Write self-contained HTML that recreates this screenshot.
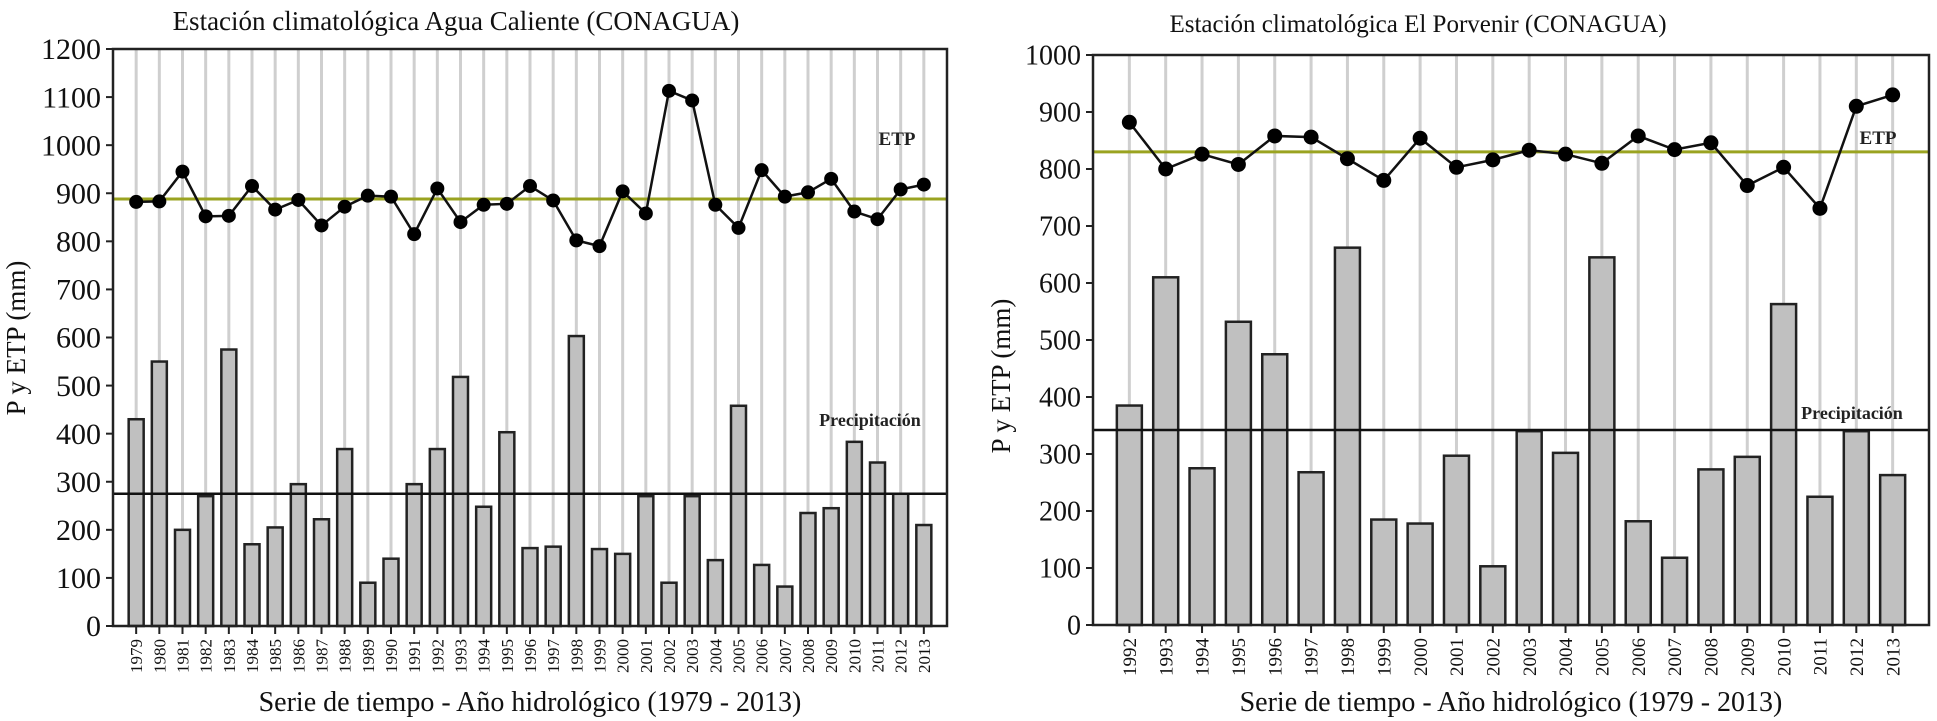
<!DOCTYPE html>
<html><head><meta charset="utf-8"><style>
html,body{margin:0;padding:0;background:#fff;}
svg{display:block;font-family:"Liberation Serif",serif;}
</style></head><body>
<svg id="chart" width="1937" height="721" viewBox="0 0 1937 721" xmlns="http://www.w3.org/2000/svg"></svg>
<script>
const yearsA = [1979,1980,1981,1982,1983,1984,1985,1986,1987,1988,1989,1990,1991,1992,1993,1994,1995,1996,1997,1998,1999,2000,2001,2002,2003,2004,2005,2006,2007,2008,2009,2010,2011,2012,2013];
const precipA = [430,550,200,270,575,170,205,295,222,368,90,140,295,368,518,248,403,162,165,603,160,150,270,90,270,137,458,127,82,235,245,383,340,275,210];
const etpA = [882,883,945,852,853,915,866,886,833,872,895,893,815,910,840,876,878,915,885,802,790,904,858,1113,1093,876,828,948,893,902,930,862,846,908,918];
const meanEtpA = 888;
const meanPrecipA = 275;
const ticksA = [0,100,200,300,400,500,600,700,800,900,1000,1100,1200];

const yearsB = [1992,1993,1994,1995,1996,1997,1998,1999,2000,2001,2002,2003,2004,2005,2006,2007,2008,2009,2010,2011,2012,2013];
const precipB = [385,610,275,532,475,268,662,185,178,297,103,340,302,645,182,118,273,295,563,225,340,263];
const etpB = [882,800,826,808,858,856,818,780,854,803,816,833,826,810,858,834,846,771,803,731,910,930];
const meanEtpB = 830;
const meanPrecipB = 342;
const ticksB = [0,100,200,300,400,500,600,700,800,900,1000];

const svg = document.getElementById('chart');
const NS = 'http://www.w3.org/2000/svg';
function el(tag, attrs, parent){
  const e = document.createElementNS(NS, tag);
  for (const k in attrs) e.setAttribute(k, attrs[k]);
  (parent||svg).appendChild(e);
  return e;
}

function draw(cfg){
  const {x0,x1,y0,y1,max,years,precip,etp,meanEtp,meanP,ticks,barW,r,yearFont,tickFont,title,titleX,titleY,titleSize,etpLbl,pLbl,ylabX,ylabY,prefix} = cfg;
  const n = years.length;
  const step = (x1-x0)/(n+1);
  const X = i => x0 + (i+1)*step;
  const Y = v => y0 - (v/max)*(y0-y1);
  const g = el('g', {});
  
  

  const t = el('text', {x:titleX, y:titleY, 'font-size':titleSize, 'text-anchor':'middle', fill:'#111'}, g);
  t.textContent = title;
  
  

  years.forEach((yr,i)=>{
    const l = el('line', {x1:X(i), x2:X(i), y1:y1, y2:y0, stroke:'#cfcfcf', 'stroke-width':3}, g);
    
    
  });
  years.forEach((yr,i)=>{
    const b = el('rect', {x:X(i)-barW/2, y:Y(precip[i]), width:barW, height:y0-Y(precip[i]), fill:'#c0c0c0', stroke:'#222', 'stroke-width':2.5}, g);
    
    
  });
  const ml = el('line', {x1:x0, x2:x1, y1:Y(meanP), y2:Y(meanP), stroke:'#111', 'stroke-width':2.5}, g);
  
  
  const me = el('line', {x1:x0, x2:x1, y1:Y(meanEtp), y2:Y(meanEtp), stroke:'#9aa320', 'stroke-width':3}, g);
  
  
  const pts = etp.map((v,i)=>X(i)+','+Y(v)).join(' ');
  const pl = el('polyline', {points:pts, fill:'none', stroke:'#111', 'stroke-width':2.5}, g);
  
  
  etp.forEach((v,i)=>{
    const c = el('circle', {cx:X(i), cy:Y(v), r:r, fill:'#000'}, g);
    
    
  });
  const fr = el('rect', {x:x0, y:y1, width:x1-x0, height:y0-y1, fill:'none', stroke:'#222', 'stroke-width':2.5}, g);
  
  
  ticks.forEach(v=>{
    const tk = el('line', {x1:x0-7, x2:x0, y1:Y(v), y2:Y(v), stroke:'#222', 'stroke-width':2}, g);
    
    
    const tl = el('text', {x:x0-12, y:Y(v)+tickFont*0.34, 'font-size':tickFont, 'text-anchor':'end', fill:'#111'}, g);
    tl.textContent = v;
    
    
  });
  years.forEach((yr,i)=>{
    const tk = el('line', {x1:X(i), x2:X(i), y1:y0, y2:y0+8, stroke:'#222', 'stroke-width':2}, g);
    
    
    const tl = el('text', {x:0, y:0, 'font-size':yearFont, 'text-anchor':'end', fill:'#111', transform:`translate(${X(i)+yearFont*0.35},${y0+13}) rotate(-90)`}, g);
    tl.textContent = yr;
    
    
  });
  const yl = el('text', {x:0, y:0, 'font-size':27, 'text-anchor':'middle', fill:'#111', transform:`translate(${ylabX},${ylabY}) rotate(-90)`}, g);
  yl.textContent = 'P y ETP (mm)';
  
  
  const xl = el('text', {x:(x0+x1)/2, y:711, 'font-size':28, 'text-anchor':'middle', fill:'#111'}, g);
  xl.textContent = 'Serie de tiempo - Año hidrológico (1979 - 2013)';
  
  
  const e1 = el('text', {x:etpLbl[0], y:etpLbl[1], 'font-size':19, 'font-weight':'bold', 'text-anchor':'middle', fill:'#222'}, g);
  e1.textContent = 'ETP';
  
  
  const p1 = el('text', {x:pLbl[0], y:pLbl[1], 'font-size':18, 'font-weight':'bold', 'text-anchor':'middle', fill:'#222'}, g);
  p1.textContent = 'Precipitación';
  
  
}

draw({x0:113,x1:947,y0:626,y1:49,max:1200,years:yearsA,precip:precipA,etp:etpA,meanEtp:meanEtpA,meanP:meanPrecipA,ticks:ticksA,barW:15,r:7,yearFont:17,tickFont:30,
  title:'Estación climatológica Agua Caliente (CONAGUA)',titleX:456,titleY:30,titleSize:27,etpLbl:[897,145],pLbl:[870,426],ylabX:25,ylabY:338,prefix:'agua-caliente'});
draw({x0:1093,x1:1929,y0:625,y1:55,max:1000,years:yearsB,precip:precipB,etp:etpB,meanEtp:meanEtpB,meanP:meanPrecipB,ticks:ticksB,barW:25,r:7.5,yearFont:19,tickFont:28,
  title:'Estación climatológica El Porvenir (CONAGUA)',titleX:1418,titleY:32,titleSize:25,etpLbl:[1878,144],pLbl:[1852,419],ylabX:1010,ylabY:376,prefix:'el-porvenir'});
</script>
</body></html>
